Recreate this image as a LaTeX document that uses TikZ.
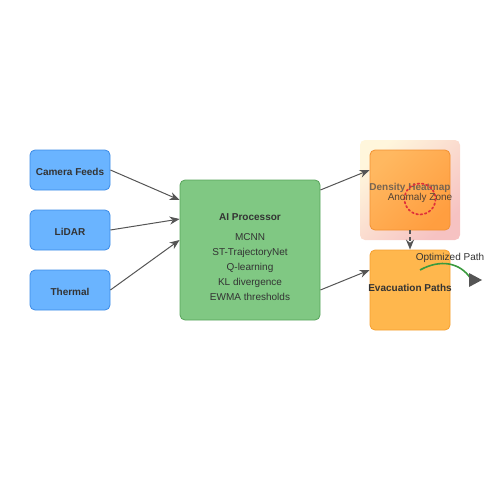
\documentclass[tikz,border=0pt]{standalone}
\usepackage{fontspec}
\setmainfont{Liberation Sans}
\usetikzlibrary{arrows.meta}

\definecolor{srcfill}{HTML}{6AB4FF}
\definecolor{srcdraw}{HTML}{3C8CE6}
\definecolor{aifill}{HTML}{80C883}
\definecolor{aidraw}{HTML}{58A45B}
\definecolor{heatfill}{HTML}{FF9E40}
\definecolor{heatlight}{HTML}{FFB860}
\definecolor{heatdraw}{HTML}{F29233}
\definecolor{heatglowA}{HTML}{FFF6DC}
\definecolor{heatglowB}{HTML}{F6C2C2}
\definecolor{evacfill}{HTML}{FFB74D}
\definecolor{evacdraw}{HTML}{F5A030}
\definecolor{linegray}{HTML}{555555}
\definecolor{textgray}{HTML}{333333}
\definecolor{zonered}{HTML}{E0303A}
\definecolor{pathgreen}{HTML}{3A9A3E}

\begin{document}
\begin{tikzpicture}[x=1pt,y=-1pt,
  box/.style={rounded corners=5pt,line width=0.8pt,minimum width=80pt,
    minimum height=40pt,inner sep=0pt,font=\bfseries,text=textgray,
    text height=11pt,text depth=0pt},
  srcbox/.style={box,fill=srcfill,draw=srcdraw},
  flow/.style={draw=linegray,line width=1pt,
    -{Stealth[length=10pt,width=8pt]}}]

\useasboundingbox (0,0) rectangle (500,500);

% inputs
\node[srcbox] (camera) at (70,170) {Camera Feeds};
\node[srcbox] (lidar) at (70,230) {LiDAR};
\node[srcbox] (thermal) at (70,290) {Thermal};

% processor
\node[box,fill=aifill,draw=aidraw,minimum width=140pt,minimum height=140pt]
  (ai) at (250,250) {};
\node[text=textgray,align=center,font=\fontsize{10}{15}\selectfont]
  (aitext) at (250,257.5) {\textbf{AI Processor}\\[5pt]MCNN\\ST-TrajectoryNet\\Q-learning\\KL divergence\\EWMA thresholds};

% heatmap with glow
\shade[rounded corners=5pt,top color=heatglowA,bottom color=heatglowB,shading angle=45]
  (360,140) rectangle (460,240);
\node[box,draw=heatdraw,top color=heatlight,bottom color=heatfill,
  shading angle=45,minimum height=80pt] (heat) at (410,190) {};
\node[font=\bfseries,text=linegray!80!heatfill] (heatlabel) at (410,188) {Density Heatmap};
\draw[zonered,line width=1.7pt,dash pattern=on 1.8pt off 2.6pt,line cap=round]
  (420,199) circle (15.5);
\node[text=textgray!85!heatfill] (zonelabel) at (420,198) {Anomaly Zone};

% evacuation
\node[box,fill=evacfill,draw=evacdraw,minimum height=80pt] (evac) at (410,290) {};
\node[font=\bfseries,text=textgray] (evaclabel) at (410,288) {Evacuation Paths};
\node[text=textgray] (optlabel) at (450,258) {Optimized Path};
\coordinate (optA) at (420,270);
\coordinate (optB) at (471,279);
\draw[pathgreen,line width=1.6pt]
  (optA) .. controls (440,259) and (460,262) .. (optB);
\fill[linegray] (optB) ++(-2,-6) -- ++(13,7) -- ++(-13,7) -- cycle;

% connectors
\draw[flow] (camera.east) -- (ai.west |- 0,200);
\draw[flow] (lidar.east) -- (ai.west |- 0,219);
\draw[flow] (thermal.east) -- (ai.west |- 0,240);
\draw[flow] (ai.east |- 0,190) -- (heat.west |- 0,170);
\draw[flow] (ai.east |- 0,290) -- (evac.west |- 0,270);
\draw[flow,dash pattern=on 4pt off 3pt,line width=1.5pt] (heat.south) -- (evac.north);
\end{tikzpicture}
\end{document}
